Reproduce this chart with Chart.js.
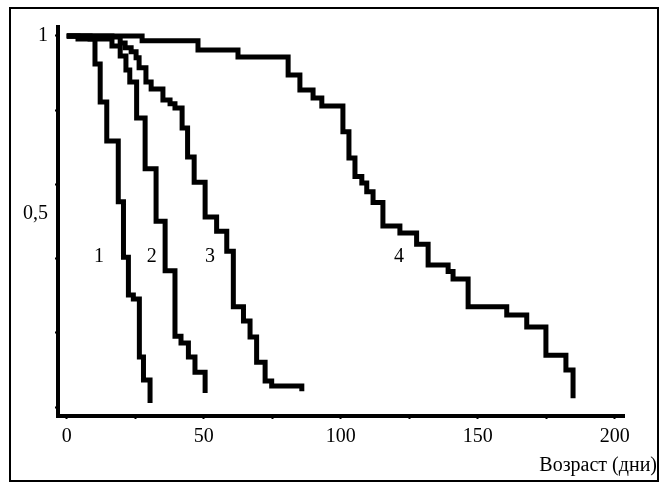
<!DOCTYPE html>
<html><head><meta charset="utf-8">
<script src="https://cdn.jsdelivr.net/npm/chart.js@4/dist/chart.umd.min.js"></script>
<style>html,body{margin:0;padding:0;background:#fff;}canvas{display:block;}</style>
</head><body>
<canvas id="c" width="667" height="490"></canvas>
<script>
// Survival curves: each point = (age where the drop happens, level after the drop)
const curve1X = [0, 4.1, 10.3, 12.2, 14.6, 18.8, 20.7, 22.5, 24.3, 26.5, 28.0, 30.4];
const curve1Y = [1, 0.992, 0.924, 0.822, 0.717, 0.553, 0.404, 0.302, 0.291, 0.135, 0.073, 0.011];

const curve2X = [0, 8.5, 16.5, 19.5, 21.6, 23.0, 25.5, 28.6, 32.6, 35.9, 39.5, 41.7, 44.4, 46.8, 50.5];
const curve2Y = [1, 0.992, 0.973, 0.946, 0.908, 0.876, 0.779, 0.642, 0.501, 0.367, 0.191, 0.173, 0.135, 0.094, 0.038];

const curve3X = [0, 16.5, 19.5, 21.3, 23.5, 25.3, 26.4, 28.9, 30.8, 35.1, 37.7, 39.5, 42.1, 44.1, 46.5, 50.5, 54.7, 58.4, 60.8, 64.5, 66.9, 69.3, 72.4, 74.8, 85.8];
const curve3Y = [1, 0.997, 0.981, 0.968, 0.957, 0.941, 0.914, 0.876, 0.857, 0.827, 0.817, 0.806, 0.752, 0.674, 0.606, 0.512, 0.474, 0.420, 0.270, 0.232, 0.189, 0.121, 0.070, 0.057, 0.043];

const curve4X = [0, 27.5, 47.9, 62.5, 80.8, 85.1, 89.9, 93.1, 100.8, 103.0, 105.2, 107.7, 109.5, 111.8, 115.4, 121.6, 127.7, 131.9, 139.2, 141.0, 146.5, 160.6, 167.9, 174.9, 182.2, 184.8];
const curve4Y = [1, 0.987, 0.962, 0.943, 0.895, 0.854, 0.833, 0.811, 0.742, 0.671, 0.621, 0.604, 0.580, 0.551, 0.488, 0.469, 0.439, 0.383, 0.365, 0.345, 0.270, 0.248, 0.216, 0.140, 0.100, 0.024];

const seriesLabels = ['1', '2', '3', '4'];
const seriesLabelX = [11.8, 31.0, 52.3, 121.3];
const seriesLabelY = [0.406, 0.406, 0.406, 0.406];

const xTickValues = [0, 25, 50, 75, 100, 125, 150, 175, 200];
const xLabelValues = [0, 50, 100, 150, 200];
const yTickMarks = [0, 0.2, 0.4, 0.6, 0.8, 1];
const yLabelValues = [0.52, 1];
const yLabelTexts = ['0,5', '1'];
const xAxisTitle = 'Возраст (дни)';

const FONT = '"Liberation Serif", "Times New Roman", serif';

function pts(xs, ys) { return xs.map((x, i) => ({ x: x, y: ys[i] })); }
const curves = [[curve1X, curve1Y], [curve2X, curve2Y], [curve3X, curve3Y], [curve4X, curve4Y]];

const decor = {
  id: 'decor',
  beforeDraw(chart) {
    const c = chart.ctx; c.save(); c.fillStyle = '#fff'; c.fillRect(0, 0, chart.width, chart.height); c.restore();
  },
  afterDraw(chart) {
    const { ctx, scales: { x, y } } = chart;
    ctx.save();
    ctx.font = '20px ' + FONT;
    ctx.fillStyle = '#000';
    ctx.textAlign = 'center';
    ctx.textBaseline = 'middle';
    seriesLabels.forEach((t, i) => ctx.fillText(t, x.getPixelForValue(seriesLabelX[i]), y.getPixelForValue(seriesLabelY[i])));
    ctx.textAlign = 'right';
    ctx.fillText(xAxisTitle, 657, 466);
    ctx.strokeStyle = '#000';
    ctx.lineWidth = 2;
    ctx.strokeRect(10, 8, 648, 473);
    ctx.restore();
  }
};

new Chart(document.getElementById('c'), {
  type: 'line',
  data: {
    datasets: curves.map(c => ({
      data: pts(c[0], c[1]),
      borderColor: '#000',
      borderWidth: 5,
      pointRadius: 0,
      stepped: true,
      fill: false,
      borderJoinStyle: 'miter',
      borderCapStyle: 'butt',
      clip: false
    }))
  },
  options: {
    responsive: false,
    animation: false,
    devicePixelRatio: 1,
    layout: { padding: { top: 27, right: 43, left: 0, bottom: 0 } },
    plugins: { legend: { display: false }, tooltip: { enabled: false } },
    scales: {
      x: {
        type: 'linear', min: -3.2, max: 203.4,
        afterBuildTicks(s) { s.ticks = xTickValues.map(v => ({ value: v })); },
        afterFit(s) { s.height = 74; },
        border: { display: true, color: '#000', width: 4 },
        grid: { drawOnChartArea: false, drawTicks: true, tickLength: 3, tickWidth: 2, tickColor: '#000' },
        ticks: {
          autoSkip: false, maxRotation: 0, padding: 6, color: '#000',
          font: { family: FONT, size: 20 },
          callback: v => xLabelValues.includes(v) ? String(v) : ''
        }
      },
      y: {
        type: 'linear', min: -0.024, max: 1.024,
        afterBuildTicks(s) {
          const all = Array.from(new Set(yTickMarks.concat(yLabelValues))).sort((a, b) => a - b);
          s.ticks = all.map(v => ({ value: v }));
        },
        afterFit(s) { s.width = 58; },
        border: { display: true, color: '#000', width: 4 },
        grid: {
          drawOnChartArea: false, drawTicks: true, tickLength: 3, tickWidth: 2,
          tickColor: ctx => (ctx.tick && yTickMarks.includes(ctx.tick.value)) ? '#000' : 'rgba(0,0,0,0)'
        },
        ticks: {
          autoSkip: false, padding: 7, color: '#000',
          font: { family: FONT, size: 20 },
          callback: v => { const i = yLabelValues.indexOf(v); return i >= 0 ? yLabelTexts[i] : ''; }
        }
      }
    }
  },
  plugins: [decor]
});
</script>
</body></html>
